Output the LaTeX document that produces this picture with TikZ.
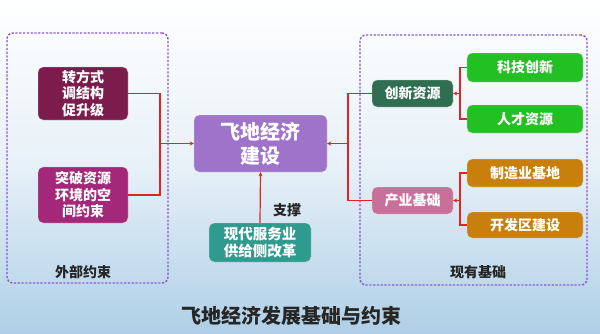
\documentclass[tikz,border=0pt]{standalone}
\usepackage{fontspec}
\setmainfont{Noto Sans CJK SC}
\usetikzlibrary{arrows.meta}
\definecolor{cB1}{HTML}{7B1C4C}
\definecolor{cB2}{HTML}{A3287A}
\definecolor{cCen}{HTML}{A073CB}
\definecolor{cBot}{HTML}{2F9A8E}
\definecolor{cInn}{HTML}{2F6E50}
\definecolor{cInd}{HTML}{C86F9A}
\definecolor{cGrn}{HTML}{22C022}
\definecolor{cOrg}{HTML}{C87F0C}
\definecolor{cFrame}{HTML}{8A55D6}
\definecolor{cLine}{HTML}{E02424}
\definecolor{cSky}{HTML}{AFCFE6}
\tikzset{
  box/.style={rectangle, rounded corners=5pt, draw=white!85!black, line width=0.4pt, text=white, align=center, inner sep=0pt, font=\bfseries\fontsize{14}{16.5}\selectfont},
  frame/.style={draw=cFrame, dashed, dash pattern=on 2.2pt off 1.6pt, line width=1.4pt, rounded corners=6pt, minimum width=#1},
  conn/.style={draw=cLine, line width=1.2pt},
  arr/.style={conn, -{Stealth[length=4pt,width=4pt]}},
  lbl/.style={text=black!85, font=\bfseries\fontsize{14}{16}\selectfont}
}
\begin{document}
\begin{tikzpicture}[x=1pt,y=-1pt]
\useasboundingbox (0,0) rectangle (600,333);
\shade[top color=white, bottom color=cSky, middle color=white!70!cSky] (0,0) rectangle (600,333);
% frames
\node[frame=161pt, minimum height=250pt] (lf) at (87.5,158) {};
\node[frame=227pt, minimum height=250pt] (rf) at (473.5,160) {};
\node[lbl] (lfl) at (83,272) {外部约束};
\node[lbl] (rfl) at (478,272) {现有基础};
% left boxes
\node[box, fill=cB1, minimum width=90pt, minimum height=53pt] (b1) at (83,93.5) {转方式\\调结构\\促升级};
\node[box, fill=cB2, minimum width=90pt, minimum height=56pt] (b2) at (83,195) {突破资源\\环境的空\\间约束};
% center
\node[box, fill=cCen, minimum width=133pt, minimum height=57pt, font=\bfseries\fontsize{20}{24}\selectfont] (cen) at (260.5,143.5) {飞地经济\\建设};
\node[box, fill=cBot, minimum width=102pt, minimum height=39pt, font=\bfseries\fontsize{14.5}{17}\selectfont] (bot) at (260,242.5) {现代服务业\\供给侧改革};
\node[lbl] (zc) at (287,210) {支撑};
% right
\node[box, fill=cInn, minimum width=81pt, minimum height=27pt] (inn) at (412.5,93.5) {创新资源};
\node[box, fill=cInd, minimum width=81pt, minimum height=27pt] (ind) at (412.5,200.5) {产业基础};
\node[box, fill=cGrn, minimum width=116pt, minimum height=29pt] (k1) at (525,67.5) {科技创新};
\node[box, fill=cGrn, minimum width=116pt, minimum height=28pt] (k2) at (525,119) {人才资源};
\node[box, fill=cOrg, minimum width=116pt, minimum height=28pt] (k3) at (525,173) {制造业基地};
\node[box, fill=cOrg, minimum width=116pt, minimum height=26pt] (k4) at (525,225) {开发区建设};
% title
\node[text=black!85, font=\bfseries\fontsize{20}{24}\selectfont] (title) at (291,316) {飞地经济发展基础与约束};
% connectors
\coordinate (Lj) at (160,143.5);
\draw[conn] (b1.east) -| (Lj) |- (b2.east);
\draw[arr] (Lj) -- (cen.west);
\coordinate (Rj) at (348,143.5);
\draw[conn] (inn.west) -| (Rj) |- (ind.west);
\draw[arr] (Rj) -- (cen.east);
\coordinate (Aj) at (460,93.5);
\draw[conn] (k1.west) -| (Aj) |- (k2.west);
\draw[arr] (Aj) -- (inn.east);
\coordinate (Bj) at (460,200.5);
\draw[conn] (k3.west) -| (Bj) |- (k4.west);
\draw[arr] (Bj) -- (ind.east);
\draw[arr] (bot.north) -- (cen.south);
\end{tikzpicture}
\end{document}
